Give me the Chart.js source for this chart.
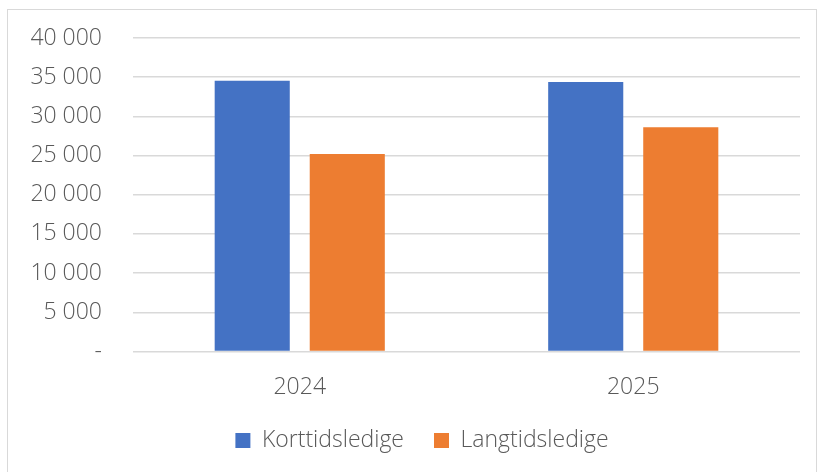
<!DOCTYPE html>
<html>
<head>
<meta charset="utf-8">
<script src="https://cdn.jsdelivr.net/npm/chart.js@4"></script>
<style>
  html, body { margin: 0; padding: 0; background: #fff; }
  #wrap { position: relative; width: 820px; height: 472px; overflow: hidden; }
  #frame { position: absolute; left: 7px; top: 9px; width: 810px; height: 470px; border: 1px solid #d9d9d9; box-sizing: border-box; }
  canvas { position: absolute; left: 0; top: 0; }
</style>
</head>
<body>
<div id="wrap">
  <div id="frame"></div>
  <canvas id="chart" width="820" height="472"></canvas>
</div>
<script>
const years = ['2024', '2025'];
const korttid = [34550, 34400];
const langtid = [25200, 28600];

const textColor = '#595959';
const fontFamily = '"Open Sans", "Segoe UI", sans-serif';

function fmt(v) {
    if (v === 0) return '-';
    return String(v).replace(/\B(?=(\d{3})+(?!\d))/g, ' ');
}

// nudge the legend a bit to the right, like in the original
const legendShift = {
    id: 'legendShift',
    afterLayout(chart) {
        if (chart.legend) {
            chart.legend.left += 22;
            chart.legend.right += 22;
        }
    }
};

const ctx = document.getElementById('chart').getContext('2d');
new Chart(ctx, {
    type: 'bar',
    data: {
        labels: years,
        datasets: [
            { label: 'Korttidsledige', data: korttid, backgroundColor: '#4472C4' },
            { label: 'Langtidsledige', data: langtid, backgroundColor: '#ED7D31' }
        ]
    },
    options: {
        responsive: false,
        animation: false,
        devicePixelRatio: 1,
        layout: { padding: { top: 38, right: 20, bottom: 10, left: 0 } },
        datasets: {
            bar: { categoryPercentage: 0.57, barPercentage: 0.79 }
        },
        scales: {
            x: {
                grid: { display: false, drawTicks: false },
                border: { display: false },
                ticks: { color: textColor, padding: 22, font: { family: fontFamily, size: 23, weight: '300' } },
                afterFit: function (scale) { scale.height = 47.5; }
            },
            y: {
                min: 0,
                max: 40000,
                ticks: {
                    stepSize: 5000,
                    color: textColor,
                    padding: 31,
                    font: { family: fontFamily, size: 23, weight: '300' },
                    callback: function (v) { return fmt(v); }
                },
                grid: { color: '#d9d9d9', lineWidth: 1.5, drawTicks: false },
                border: { display: false },
                afterFit: function (scale) { scale.width = 133; scale.paddingTop = 0; }
            }
        },
        plugins: {
            legend: {
                position: 'bottom',
                labels: {
                    color: textColor,
                    boxWidth: 15,
                    boxHeight: 15,
                    padding: 30,
                    font: { family: fontFamily, size: 23, weight: '300' }
                }
            },
            tooltip: { enabled: false }
        }
    },
    plugins: [legendShift]
});
</script>
</body>
</html>
